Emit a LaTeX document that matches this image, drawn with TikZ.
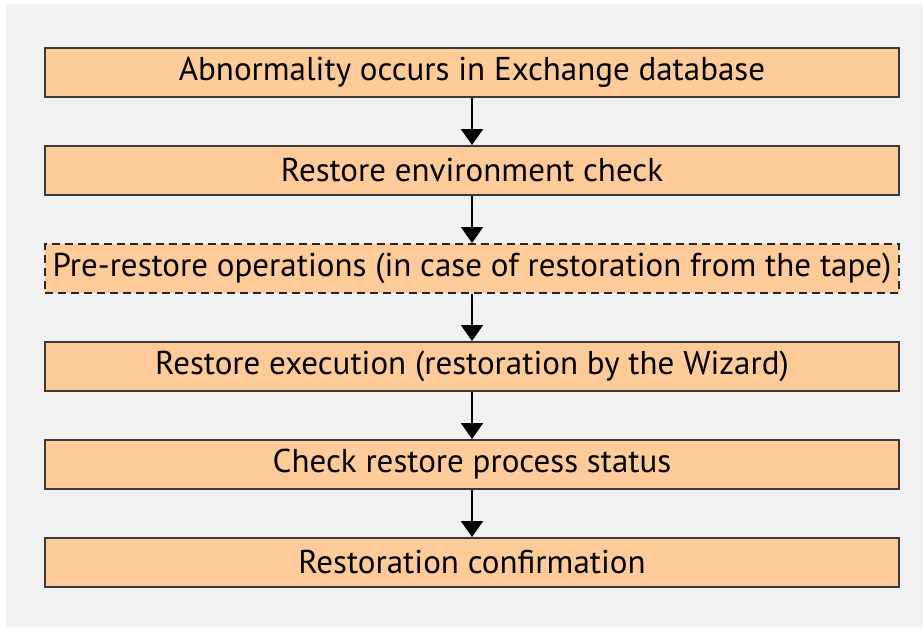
\documentclass[tikz,border=0pt]{standalone}
\usepackage{fontspec}
\setmainfont{PT Sans}
\usepackage{tikz}
\usetikzlibrary{arrows.meta}

\definecolor{bg}{HTML}{F1F1F1}
\definecolor{peach}{HTML}{FFCC99}
\definecolor{edgegray}{HTML}{3A3A3A}

\begin{document}
\begin{tikzpicture}[x=1pt,y=-1pt,
  box/.style={draw=edgegray,line width=2pt,fill=peach,minimum width=854pt,minimum height=49pt,inner sep=0pt,font=\fontsize{33}{35}\selectfont},
  optbox/.style={box,draw=black!85,dash pattern=on 8pt off 5pt},
  flow/.style={line width=2pt,-{Triangle[length=16pt,width=22pt]}}]
\useasboundingbox (0,0) rectangle (923,627);
\fill[bg] (6,4) rectangle (923,627);

\node[box] (a) at (472,72.5) {Abnormality occurs in Exchange database};
\node[box] (b) at (472,170.5) {Restore environment check};
\node[optbox] (c) at (472,268.5) {Pre-restore operations (in case of restoration from the tape)};
\node[box] (d) at (472,366.5) {Restore execution (restoration by the Wizard)};
\node[box] (e) at (472,464.5) {Check restore process status};
\node[box] (f) at (472,562.5) {Restoration confirmation};

\path
(a) edge[flow] (b)
(b) edge[flow] (c)
(c) edge[flow] (d)
(d) edge[flow] (e)
(e) edge[flow] (f);
\end{tikzpicture}
\end{document}
